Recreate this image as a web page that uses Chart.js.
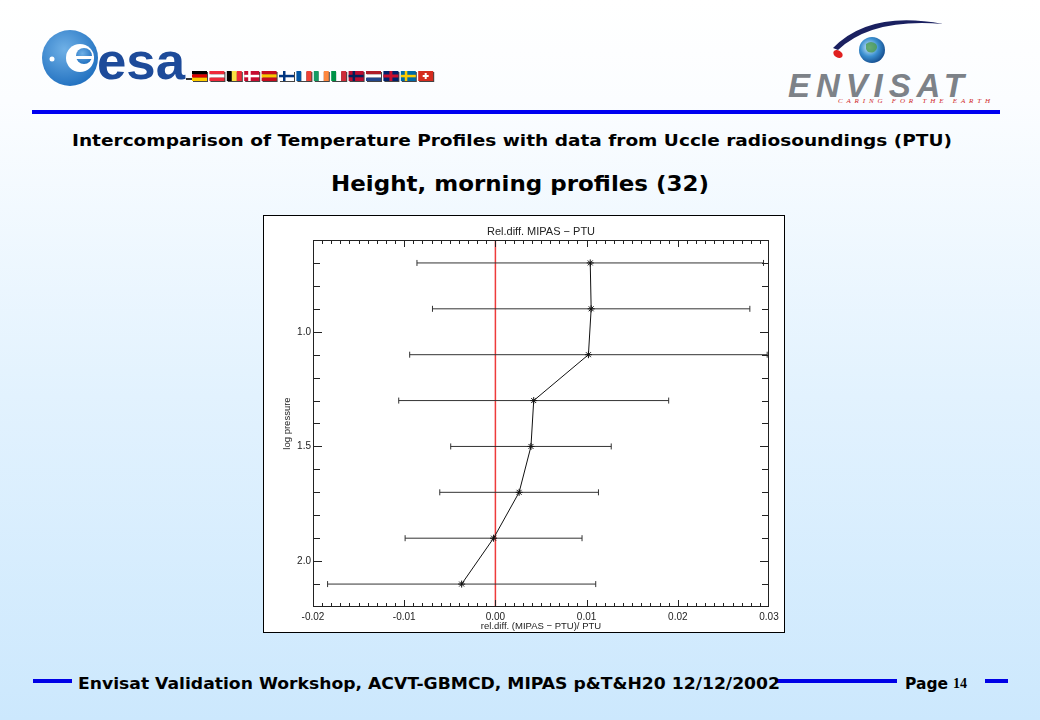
<!DOCTYPE html>
<html>
<head>
<meta charset="utf-8">
<script src="https://cdn.jsdelivr.net/npm/chart.js@4/dist/chart.umd.min.js"></script>
<style>
  html, body { margin: 0; padding: 0; }
  body {
    width: 1040px; height: 720px; overflow: hidden; position: relative;
    background: linear-gradient(to bottom, #ffffff 0%, #fbfdff 14%, #e2f2fe 55%, #cce8fd 100%);
    font-family: "DejaVu Sans", sans-serif;
  }
  #deco { position: absolute; left: 0; top: 0; }
  #plotBox {
    position: absolute; left: 263px; top: 215px; width: 522px; height: 418px;
    box-sizing: border-box; border: 1px solid #000; background: #fff;
  }
  #plotBox canvas { display: block; }
</style>
</head>
<body>

<svg id="deco" width="1040" height="720" xmlns="http://www.w3.org/2000/svg">
  <!-- ESA logo -->
  <defs>
    <radialGradient id="esaBall" cx="0.4" cy="0.35" r="0.7">
      <stop offset="0" stop-color="#6fb0e6"/>
      <stop offset="1" stop-color="#1f6fbf"/>
    </radialGradient>
    <radialGradient id="globe" cx="0.4" cy="0.4" r="0.7">
      <stop offset="0" stop-color="#d8f0ff"/>
      <stop offset="0.5" stop-color="#3a8fd0"/>
      <stop offset="1" stop-color="#0d3f80"/>
    </radialGradient>
  </defs>
  <circle cx="70" cy="58" r="28" fill="url(#esaBall)"/>
  <circle cx="80" cy="58" r="14" fill="#ffffff"/>
  <circle cx="84" cy="56" r="8" fill="url(#esaBall)"/>
  <rect x="76" y="56" width="18" height="3" fill="#ffffff"/>
  <circle cx="52" cy="59" r="2.5" fill="#ffffff"/>
  <text x="97" y="79" font-family="Liberation Sans, Arial, sans-serif" font-weight="bold" font-size="52" fill="#1d4b9a" textLength="88" lengthAdjust="spacingAndGlyphs">esa</text>
  <rect x="186" y="78" width="6" height="2" fill="#333"/>
  <g id="flags" transform="translate(192,71)"></g>

  <!-- Envisat logo -->
  <path d="M 833 48 Q 870 10 943 24 Q 872 18 838 50 Z" fill="#1a2060"/>
  <ellipse cx="838" cy="54" rx="5" ry="3.5" fill="#e02020" transform="rotate(30 838 54)"/>
  <circle cx="872" cy="50" r="13" fill="url(#globe)"/>
  <path d="M 866 44 q 5 -4 10 0 q 3 4 -2 8 q -6 2 -8 -3 z" fill="#4a9a50" opacity="0.8"/>
  <text x="788" y="97" font-family="Liberation Sans, Arial, sans-serif" font-weight="bold" font-style="italic" font-size="33" fill="#7d8288" textLength="176" lengthAdjust="spacing">ENVISAT</text>
  <text x="838" y="103" font-family="Liberation Serif, serif" font-style="italic" font-size="7" fill="#d02828" textLength="152" lengthAdjust="spacing">CARING FOR THE EARTH</text>

  <!-- header rule -->
  <rect x="32" y="110" width="968" height="4" fill="#0000f0"/>

  <!-- titles -->
  <text x="72" y="146" font-family="DejaVu Sans, sans-serif" font-weight="bold" font-size="16" fill="#000" textLength="880" lengthAdjust="spacingAndGlyphs">Intercomparison of Temperature Profiles with data from Uccle radiosoundings (PTU)</text>
  <text x="331" y="191" font-family="DejaVu Sans, sans-serif" font-weight="bold" font-size="22" fill="#000" textLength="378" lengthAdjust="spacingAndGlyphs">Height, morning profiles (32)</text>

  <!-- footer -->
  <rect x="33" y="679" width="39" height="4" fill="#0000e6"/>
  <rect x="775" y="679" width="122" height="4" fill="#0000e6"/>
  <rect x="985" y="679" width="23" height="4" fill="#0000e6"/>
  <text x="78" y="689" font-family="DejaVu Sans, sans-serif" font-weight="bold" font-size="15" fill="#000" textLength="702" lengthAdjust="spacingAndGlyphs">Envisat Validation Workshop, ACVT-GBMCD,  MIPAS p&amp;T&amp;H20 12/12/2002</text>
  <text x="905" y="689" font-family="DejaVu Sans, sans-serif" font-weight="bold" font-size="15" fill="#000" textLength="43" lengthAdjust="spacingAndGlyphs">Page</text>
  <text x="953" y="688" font-family="Liberation Serif, serif" font-weight="bold" font-size="14" fill="#000">14</text>
</svg>

<div id="plotBox"><canvas id="profileChart" width="520" height="416"></canvas></div>

<script>
// --- data ---------------------------------------------------------------
const logPressure = [0.7, 0.9, 1.1, 1.3, 1.5, 1.7, 1.9, 2.1];
const meanRelDiff = [0.0104, 0.0105, 0.0102, 0.0042, 0.0039, 0.0026, -0.0002, -0.0037];
const sdRelDiff   = [0.0190, 0.0174, 0.0196, 0.0148, 0.0088, 0.0087, 0.0097, 0.0147];

const xTickValues = [-0.02, -0.01, 0.00, 0.01, 0.02, 0.03];
const yTickValues = [1.0, 1.5, 2.0];
const X_RANGE = [-0.02, 0.03];
const Y_RANGE = [0.6, 2.2];
const X_MINOR = 0.001;
const Y_MINOR = 0.1;

// flag colours for the little ESA member-state row (decoration)
const flagStripes = [
  ['h', '#000', '#dd0000', '#ffce00'],
  ['h', '#ed2939', '#fff', '#ed2939'],
  ['v', '#000', '#fae042', '#ed2939'],
  ['c', '#c60c30', '#fff'],
  ['h', '#c60b1e', '#ffc400', '#c60b1e'],
  ['c', '#fff', '#003580'],
  ['v', '#0055a4', '#fff', '#ef4135'],
  ['v', '#169b62', '#fff', '#ff883e'],
  ['v', '#009246', '#fff', '#ce2b37'],
  ['c', '#ba0c2f', '#00205b'],
  ['h', '#ae1c28', '#fff', '#21468b'],
  ['x', '#012169', '#c8102e'],
  ['c', '#006aa7', '#fecc00'],
  ['s', '#d52b1e', '#fff']
];

(function drawFlags() {
  const ns = 'http://www.w3.org/2000/svg';
  const g = document.getElementById('flags');
  const W = 15, H = 10, GAP = 2.4;
  const rect = (x, y, w, h, f) => {
    const r = document.createElementNS(ns, 'rect');
    r.setAttribute('x', x); r.setAttribute('y', y);
    r.setAttribute('width', w); r.setAttribute('height', h);
    r.setAttribute('fill', f); g.appendChild(r);
  };
  flagStripes.forEach((f, i) => {
    const x0 = i * (W + GAP);
    const kind = f[0];
    rect(x0 + 1, 1, W, H, '#444');
    if (kind === 'h') f.slice(1).forEach((c, k) => rect(x0, k * H / 3, W, H / 3, c));
    else if (kind === 'v') f.slice(1).forEach((c, k) => rect(x0 + k * W / 3, 0, W / 3, H, c));
    else if (kind === 'c') { rect(x0, 0, W, H, f[1]); rect(x0 + 4, 0, 2.5, H, f[2]); rect(x0, 3.8, W, 2.5, f[2]); }
    else if (kind === 'x') { rect(x0, 0, W, H, f[1]); rect(x0 + 6, 0, 3, H, f[2]); rect(x0, 3.5, W, 3, f[2]); }
    else { rect(x0, 0, W, H, f[1]); rect(x0 + 6.5, 2, 2, 6, f[2]); rect(x0 + 4.5, 4, 6, 2, f[2]); }
  });
})();

// --- chart ----------------------------------------------------------------
const FONT_FAMILY = 'Liberation Sans, Arial, sans-serif';
const TICK_FONT = { family: FONT_FAMILY, size: 10 };
const LABEL_FONT = { family: FONT_FAMILY, size: 9.5 };
const INK = '#222';

// error-bar segments, one dataset per level
const errorBarSets = logPressure.map((p, i) => ({
  data: [
    { x: meanRelDiff[i] - sdRelDiff[i], y: p },
    { x: meanRelDiff[i] + sdRelDiff[i], y: p }
  ],
  showLine: true,
  borderColor: '#333',
  borderWidth: 1,
  pointStyle: 'line',
  rotation: 90,
  pointRadius: 3,
  pointBorderWidth: 1
}));

const profileSet = {
  data: logPressure.map((p, i) => ({ x: meanRelDiff[i], y: p })),
  showLine: true,
  borderColor: '#111',
  borderWidth: 1,
  pointStyle: 'star',
  pointRadius: 3.5,
  pointBorderWidth: 1,
  tension: 0
};

const zeroLineSet = {
  data: [{ x: 0, y: Y_RANGE[0] }, { x: 0, y: Y_RANGE[1] }],
  showLine: true,
  borderColor: '#ee3b3b',
  borderWidth: 1.5,
  pointRadius: 0
};

// IDL-style box: frame plus inward major/minor ticks on all four sides
const boxTicks = {
  id: 'boxTicks',
  afterDraw(chart) {
    const { ctx, chartArea: a, scales: { x, y } } = chart;
    ctx.save();
    ctx.strokeStyle = INK;
    ctx.lineWidth = 1;
    ctx.strokeRect(a.left + 0.5, a.top + 0.5, a.right - a.left - 1, a.bottom - a.top - 1);
    ctx.beginPath();
    const nx = Math.round((X_RANGE[1] - X_RANGE[0]) / X_MINOR);
    for (let i = 1; i < nx; i++) {
      const v = X_RANGE[0] + i * X_MINOR;
      const px = Math.round(x.getPixelForValue(v)) + 0.5;
      const len = i % 10 === 0 ? 7 : 4;
      ctx.moveTo(px, a.bottom); ctx.lineTo(px, a.bottom - len);
      ctx.moveTo(px, a.top); ctx.lineTo(px, a.top + len);
    }
    const ny = Math.round((Y_RANGE[1] - Y_RANGE[0]) / Y_MINOR);
    for (let i = 1; i < ny; i++) {
      const v = Y_RANGE[0] + i * Y_MINOR;
      const py = Math.round(y.getPixelForValue(v)) + 0.5;
      const len = (i - 4) % 5 === 0 ? 9 : 7;
      ctx.moveTo(a.left, py); ctx.lineTo(a.left + len, py);
      ctx.moveTo(a.right, py); ctx.lineTo(a.right - len, py);
    }
    ctx.stroke();
    ctx.restore();
  }
};

const hiddenGrid = { display: false, drawTicks: false, tickLength: 0 };

new Chart(document.getElementById('profileChart'), {
  type: 'scatter',
  data: { datasets: [profileSet, ...errorBarSets, zeroLineSet] },
  options: {
    responsive: false,
    animation: false,
    layout: { padding: { left: 18, right: 15, top: 9, bottom: 0 } },
    plugins: {
      legend: { display: false },
      tooltip: { enabled: false }
    },
    scales: {
      x: {
        type: 'linear',
        min: X_RANGE[0], max: X_RANGE[1],
        afterBuildTicks: s => { s.ticks = xTickValues.map(v => ({ value: v })); },
        afterFit: s => { s.height = 25; },
        grid: hiddenGrid,
        border: { display: false },
        ticks: { color: INK, font: TICK_FONT, padding: 4, maxRotation: 0, callback: v => v.toFixed(2) },
        title: { display: true, text: 'rel.diff. (MIPAS \u2212 PTU)/ PTU', color: INK, font: LABEL_FONT, padding: 0 }
      },
      // top axis only carries the plot title, centred over the plot box
      xTop: {
        type: 'linear',
        position: 'top',
        min: X_RANGE[0], max: X_RANGE[1],
        afterFit: s => { s.height = 15; },
        grid: hiddenGrid,
        border: { display: false },
        ticks: { display: false },
        title: {
          display: true,
          text: 'Rel.diff. MIPAS \u2212 PTU',
          color: INK,
          font: { family: FONT_FAMILY, size: 11 },
          padding: 0
        }
      },
      y: {
        type: 'linear',
        reverse: true,
        min: Y_RANGE[0], max: Y_RANGE[1],
        afterBuildTicks: s => { s.ticks = yTickValues.map(v => ({ value: v })); },
        afterFit: s => { s.width = 31; },
        grid: hiddenGrid,
        border: { display: false },
        ticks: { color: INK, font: TICK_FONT, padding: 2, callback: v => v.toFixed(1) },
        title: { display: true, text: 'log pressure', color: INK, font: LABEL_FONT, padding: 0 }
      }
    }
  },
  plugins: [boxTicks]
});
</script>
</body>
</html>
